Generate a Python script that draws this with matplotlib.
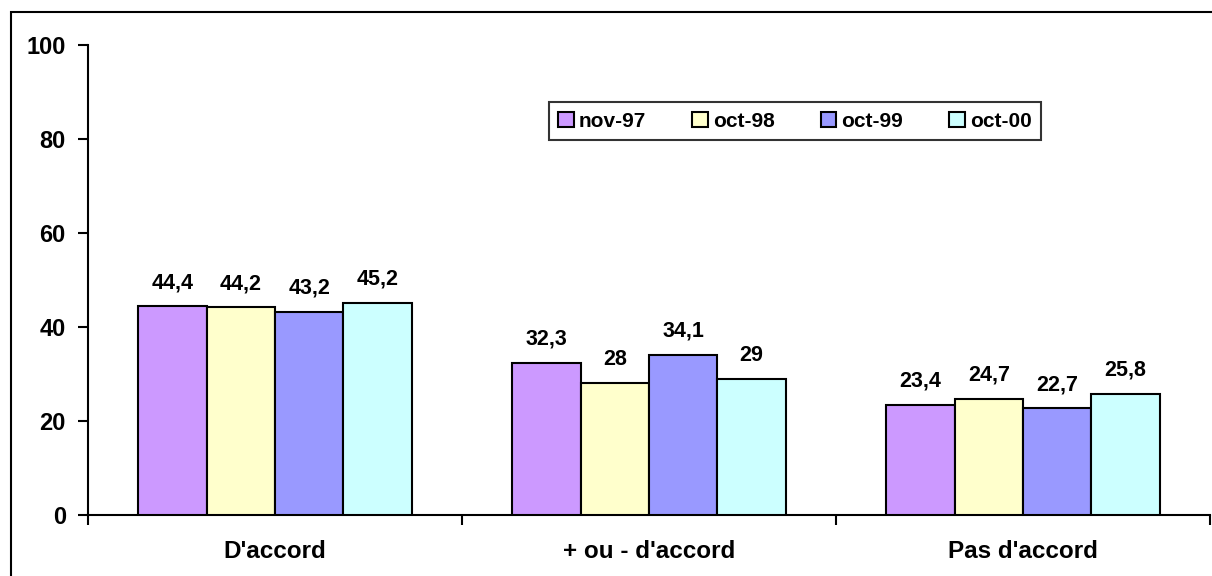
import matplotlib
matplotlib.use("Agg")
import matplotlib.pyplot as plt
import numpy as np
from matplotlib.patches import Rectangle

categories = ["D'accord", "+ ou - d'accord", "Pas d'accord"]
series_names = ["nov-97", "oct-98", "oct-99", "oct-00"]
values = {
    "nov-97": [44.4, 32.3, 23.4],
    "oct-98": [44.2, 28, 24.7],
    "oct-99": [43.2, 34.1, 22.7],
    "oct-00": [45.2, 29, 25.8],
}
labels = {
    "nov-97": ["44,4", "32,3", "23,4"],
    "oct-98": ["44,2", "28", "24,7"],
    "oct-99": ["43,2", "34,1", "22,7"],
    "oct-00": ["45,2", "29", "25,8"],
}
colors = ["#CC99FF", "#FFFFCC", "#9999FF", "#CCFFFF"]
yticks = [0, 20, 40, 60, 80, 100]

plt.rcParams['font.family'] = ['Liberation Sans', 'DejaVu Sans']
plt.rcParams['font.weight'] = 'bold'

fig = plt.figure(figsize=(12.12, 5.76), dpi=100)
ax = fig.add_axes([88/1212, 1-515/576, (1210-88)/1212, (515-45)/576])

x = np.arange(len(categories))
w = 0.1826
for i, name in enumerate(series_names):
    pos = x + (i - 1.5) * w
    bars = ax.bar(pos, values[name], width=w, color=colors[i], edgecolor='black',
                  linewidth=1.5, label=name, zorder=3)
    for b, lab in zip(bars, labels[name]):
        ax.annotate(lab, (b.get_x() + b.get_width()/2, b.get_height()),
                    xytext=(0, 9.5), textcoords='offset points', ha='center', va='bottom',
                    fontsize=15.5, fontweight='bold')

ax.set_xlim(-0.5, 2.5)
ax.set_ylim(0, 100)
ax.set_yticks(yticks)
ax.set_yticklabels([str(t) for t in yticks], fontsize=17, fontweight='bold')
ax.set_xticks([-0.5, 0.5, 1.5, 2.5])
ax.set_xticklabels([])
ax.set_xticks(x, minor=True)
ax.set_xticklabels(categories, minor=True, fontsize=17.5, fontweight='bold')
ax.tick_params(axis='x', which='minor', length=0, pad=18)
ax.tick_params(axis='x', which='major', length=7, width=1.5, direction='out')
ax.tick_params(axis='y', length=7, width=1.5, direction='out', pad=9)
for s in ['top', 'right']:
    ax.spines[s].set_visible(False)
for s in ['left', 'bottom']:
    ax.spines[s].set_linewidth(1.5)

leg = ax.legend(loc='center', bbox_to_anchor=(0.63, 0.838), ncol=4, frameon=True,
                fancybox=False, edgecolor='black', handlelength=0.75,
                handleheight=0.75, handletextpad=0.25, columnspacing=2.2,
                borderpad=0.45, borderaxespad=0, prop={'weight': 'bold', 'size': 15})
leg.get_frame().set_linewidth(1.5)

fig.patches.append(Rectangle((11/1212, -0.05), 1.1, 1 - 12/576 + 0.05, transform=fig.transFigure,
                             fill=False, edgecolor='black', linewidth=1.5))

fig.savefig("out.png", dpi=100)
